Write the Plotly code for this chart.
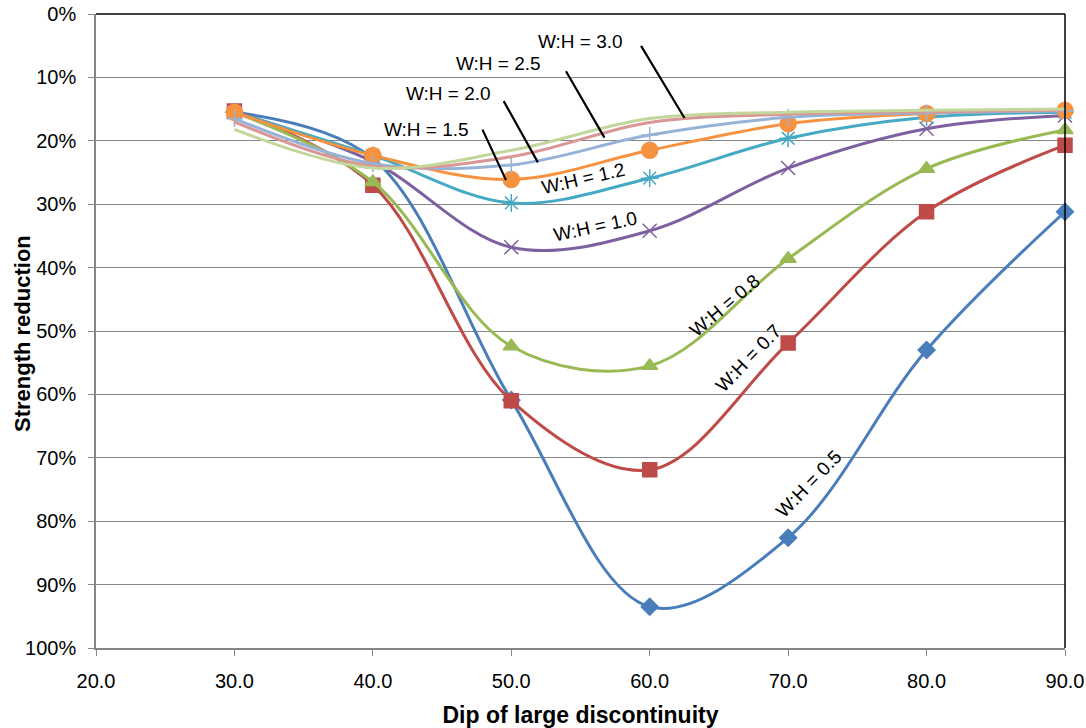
import plotly.graph_objects as go

dip = [30, 40, 50, 60, 70, 80, 90]

wh_05 = [15.5, 22.8, 60.9, 93.5, 82.6, 53.0, 31.2]
wh_07 = [15.3, 27.0, 61.0, 71.9, 51.9, 31.2, 20.7]
wh_08 = [15.5, 26.5, 52.4, 55.5, 38.6, 24.4, 18.3]
wh_10 = [15.5, 23.3, 36.8, 34.2, 24.3, 18.1, 16.0]
wh_12 = [15.5, 22.3, 29.8, 25.9, 19.6, 16.3, 15.5]
wh_15 = [15.5, 22.3, 26.1, 21.5, 17.3, 15.7, 15.2]
wh_20 = [16.5, 23.6, 23.8, 19.1, 16.3, 15.6, 15.3]
wh_25 = [17.0, 24.0, 22.5, 17.1, 15.8, 15.4, 15.2]
wh_30 = [18.2, 24.3, 21.5, 16.5, 15.5, 15.2, 15.0]

series_names = ["W:H = 0.5", "W:H = 0.7", "W:H = 0.8", "W:H = 1.0", "W:H = 1.2",
                "W:H = 1.5", "W:H = 2.0", "W:H = 2.5", "W:H = 3.0"]
series_vals = [wh_05, wh_07, wh_08, wh_10, wh_12, wh_15, wh_20, wh_25, wh_30]
colors = ["#4A7EBB", "#BE4B48", "#98B954", "#7D60A0", "#46AAC5", "#F69240",
          "#95B3D7", "#D99694", "#C3D69B"]
symbols = ["diamond", "square", "triangle-up", "x-thin-open", "asterisk-open",
           "circle", "cross-thin-open", None, None]
sizes = [13, 14, 14, 14, 15, 16, 12, 0, 0]

x_ticks = [20, 30, 40, 50, 60, 70, 80, 90]
x_tick_labels = ["20.0", "30.0", "40.0", "50.0", "60.0", "70.0", "80.0", "90.0"]
y_ticks = [0, 10, 20, 30, 40, 50, 60, 70, 80, 90, 100]
y_tick_labels = [f"{v}%" for v in y_ticks]

fig = go.Figure()
for name, vals, col, sym, sz in zip(series_names, series_vals, colors, symbols, sizes):
    mode = "lines+markers" if sym else "lines"
    marker = dict(symbol=sym, size=sz, color=col, line=dict(color=col, width=1.5)) if sym else None
    fig.add_trace(go.Scatter(
        x=dip, y=vals, name=name, mode=mode,
        line=dict(color=col, width=3, shape="spline", smoothing=1.0),
        marker=marker, showlegend=False, cliponaxis=False))

FONT = "Liberation Sans, Arial, sans-serif"
ann = []
# leader-line labels
leaders = [
    ("W:H = 1.5", 43.89, 18.2, 47.87, 18.0, 49.62, 26.2),
    ("W:H = 2.0", 45.46, 12.5, 49.39, 13.5, 51.92, 23.4),
    ("W:H = 2.5", 49.07, 7.8, 53.89, 8.8, 56.73, 19.5),
    ("W:H = 3.0", 54.97, 4.4, 59.31, 4.8, 62.51, 16.4),
]
for txt, tx, ty, x0, y0, x1, y1 in leaders:
    ann.append(dict(x=tx, y=ty, text=txt, showarrow=False,
                    font=dict(size=19, color="black", family=FONT)))
    ann.append(dict(x=x1, y=y1, ax=x0, ay=y0, axref="x", ayref="y", text="",
                    showarrow=True, arrowhead=0, arrowwidth=2.2, arrowcolor="black"))
# rotated labels
rotated = [
    ("W:H = 1.2", 55.2, 26.0, -13),
    ("W:H = 1.0", 56.05, 33.5, -12),
    ("W:H = 0.8", 65.4, 45.9, -40),
    ("W:H = 0.7", 67.1, 54.3, -46),
    ("W:H = 0.5", 71.5, 74.0, -46),
]
for txt, tx, ty, ang in rotated:
    ann.append(dict(x=tx, y=ty, text=txt, showarrow=False, textangle=ang,
                    font=dict(size=19, color="black", family=FONT)))
# y-axis title as annotation
ann.append(dict(xref="paper", yref="paper", x=0, y=0.5, xanchor="center", yanchor="middle",
                xshift=-74, yshift=-3, text="<b>Strength reduction</b>", textangle=-90,
                showarrow=False, font=dict(size=22, color="black", family=FONT)))

fig.update_layout(
    width=1086, height=728,
    margin=dict(l=96, r=21, t=14, b=80, autoexpand=False),
    plot_bgcolor="white", paper_bgcolor="white",
    font=dict(family=FONT, size=20, color="black"),
    annotations=ann,
    shapes=[
        dict(type="line", xref="paper", yref="paper", x0=0, x1=1, y0=1, y1=1,
             line=dict(color="black", width=1.5)),
        dict(type="line", xref="paper", yref="paper", x0=1, x1=1, y0=0, y1=1,
             line=dict(color="black", width=1.5)),
    ],
    xaxis=dict(range=[20, 90], tickvals=x_ticks, ticktext=x_tick_labels,
               automargin=False, ticklabeloverflow="allow",
               showgrid=False, zeroline=False, showline=True, linecolor="#868686",
               linewidth=1.5, ticks="outside", ticklen=6, tickcolor="#868686",
               ticklabelstandoff=8,
               tickfont=dict(size=20, family=FONT),
               title=dict(text="<b>Dip of large discontinuity</b>", standoff=17,
                          font=dict(size=23, family=FONT))),
    yaxis=dict(range=[100, 0], tickvals=y_ticks, ticktext=y_tick_labels,
               automargin=False, ticklabeloverflow="allow",
               showgrid=True, gridcolor="#868686", gridwidth=1,
               zeroline=False, showline=True, linecolor="#868686",
               linewidth=1.5, ticks="outside", ticklen=6, tickcolor="#868686",
               ticklabelstandoff=8,
               tickfont=dict(size=20, family=FONT)),
)

fig.write_html(
    "out.html",
    config={"displayModeBar": False},
    post_script="document.body.style.margin='0';document.body.style.overflow='hidden';",
)
